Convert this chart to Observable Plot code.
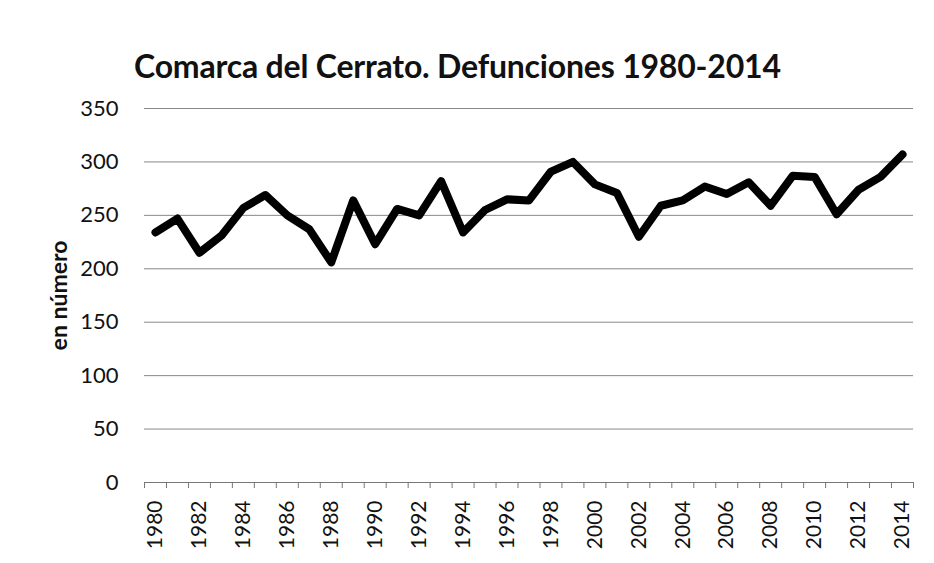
<!DOCTYPE html>
<html>
<head>
<meta charset="utf-8">
<script src="https://cdn.jsdelivr.net/npm/d3@7"></script>
<script src="https://cdn.jsdelivr.net/npm/@observablehq/plot@0.6"></script>
<style>
  html, body { margin: 0; padding: 0; background: #fff; }
  #wrap { position: relative; width: 934px; height: 563px; overflow: hidden; }
  #title { position: absolute; left: 134px; top: 50px; margin: 0;
    font-family: Lato, sans-serif; font-weight: bold; font-size: 32px; line-height: 32px;
    letter-spacing: -0.2px; color: #111; white-space: nowrap; }
  #chart { position: absolute; left: 0; top: 80px; }
</style>
</head>
<body>
<div id="wrap">
  <div id="title">Comarca del Cerrato. Defunciones 1980-2014</div>
  <div id="chart"></div>
</div>
<script>
const years = [1980, 1981, 1982, 1983, 1984, 1985, 1986, 1987, 1988, 1989,
  1990, 1991, 1992, 1993, 1994, 1995, 1996, 1997, 1998, 1999,
  2000, 2001, 2002, 2003, 2004, 2005, 2006, 2007, 2008, 2009,
  2010, 2011, 2012, 2013, 2014];
const deaths = [234, 247, 215, 231, 257, 269, 250, 237, 206, 264,
  223, 256, 250, 282, 234, 255, 265, 264, 291, 300,
  279, 271, 230, 259, 264, 277, 270, 281, 259, 287,
  286, 251, 274, 286, 307];
const yTicks = [0, 50, 100, 150, 200, 250, 300, 350];
const xLabelYears = [1980, 1982, 1984, 1986, 1988, 1990, 1992, 1994, 1996, 1998,
  2000, 2002, 2004, 2006, 2008, 2010, 2012, 2014];
const yLabel = "en número";

const data = years.map((year, i) => ({year, value: deaths[i]}));
const boundaries = years.map(y => y - 0.5).concat([years[years.length - 1] + 0.5]);

const chart = Plot.plot({
  width: 934,
  height: 483,
  marginLeft: 144,
  marginRight: 21,
  marginTop: 28,
  marginBottom: 81,
  style: {fontFamily: "Lato, sans-serif", background: "white", overflow: "visible", color: "#111"},
  x: {domain: [years[0] - 0.5, years[years.length - 1] + 0.5], label: null},
  y: {domain: [0, 350], label: null},
  marks: [
    Plot.gridY(yTicks, {stroke: "#888", strokeOpacity: 1, strokeWidth: 1}),
    Plot.ruleY([0], {stroke: "#777", strokeWidth: 1}),
    Plot.axisY(yTicks, {tickSize: 0, tickPadding: 26, fontSize: 22, label: null, fill: "#111"}),
    Plot.axisY([], {label: yLabel, labelAnchor: "center", labelArrow: "none", labelOffset: 94,
      fontSize: 23, fontWeight: "bold", tickSize: 0, fill: "#111"}),
    Plot.axisX(boundaries, {tickSize: 6, tickFormat: () => "", stroke: "#777", label: null}),
    Plot.axisX(xLabelYears, {tickSize: 0, tickRotate: -90, tickPadding: 18, fontSize: 21,
      tickFormat: d => String(d), label: null, fill: "#111"}),
    Plot.line(data, {x: "year", y: "value", stroke: "#000", strokeWidth: 8,
      strokeLinejoin: "round", strokeLinecap: "round"})
  ]
});
document.getElementById("chart").appendChild(chart);
</script>
</body>
</html>
